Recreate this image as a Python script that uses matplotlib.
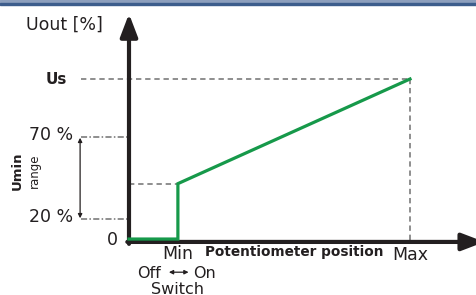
import matplotlib.pyplot as plt
from matplotlib.patches import Rectangle

# schematic levels (Max = 100 on x, Us = 100 on y)
pot_pos = [0, 17.4, 17.4, 100]
uout = [0.6, 0.6, 35, 100]
x_min, x_max = 17.4, 100
y_us, y_70, y_20, y_umin = 100, 64, 13, 35
level_labels = ['Us', '70 %', '20 %', '0']

W, H = 477, 295
ox, oy = 129, 240          # origin in pixels
sx, sy = 2.81, 1.61        # pixels per unit

fig = plt.figure(figsize=(W / 100, H / 100), dpi=100)
ax = fig.add_axes([0, 0, 1, 1])
ax.set_xlim(-ox / sx, (W - ox) / sx)
ax.set_ylim(-(H - oy) / sy, oy / sy)
ax.axis('off')

# window frame at top
fig.patches.append(Rectangle((0, 1 - 3 / H), 1, 3 / H, transform=fig.transFigure,
                             color='#8d9fbd', zorder=0))
fig.patches.append(Rectangle((0, 1 - 4.5 / H), 1, 1.5 / H, transform=fig.transFigure,
                             color='#3d5d8c', zorder=0))

dark = '#231f20'
grey = '#707070'
green = '#16994a'
dash = (0, (3.5, 2.5))
dashdot = (0, (4, 1.5, 1, 1.5))

# guide lines
ax.plot([-17, x_max], [y_us, y_us], ls=dash, color=grey, lw=1.1)
ax.plot([x_max, x_max], [0, y_us], ls=dash, color=grey, lw=1.1)
ax.plot([0, x_min], [y_umin, y_umin], ls=dash, color=grey, lw=1.1)
ax.plot([-17, 0], [y_70, y_70], ls=dashdot, color=grey, lw=1.1)
ax.plot([-17, 0], [y_20, y_20], ls=dashdot, color=grey, lw=1.1)

# Umin range arrow
ax.annotate('', xy=(-17.4, y_70 - 0.5), xytext=(-17.4, y_20 + 0.5),
            arrowprops=dict(arrowstyle='<|-|>', color=dark, lw=0.9,
                            mutation_scale=6, shrinkA=0, shrinkB=0))

# axes with arrows
head = '-|>,head_length=0.55,head_width=0.21'
ax.annotate('', xy=(0, 140.5), xytext=(0, -2.4), annotation_clip=False,
            arrowprops=dict(arrowstyle=head, color=dark, lw=3,
                            mutation_scale=25, shrinkA=0, shrinkB=0), zorder=4)
ax.annotate('', xy=(126.5, -1.2), xytext=(-0.6, -1.2), annotation_clip=False,
            arrowprops=dict(arrowstyle=head, color=dark, lw=3,
                            mutation_scale=25, shrinkA=0, shrinkB=0), zorder=4)

# characteristic
ax.plot(pot_pos, uout, color=green, lw=2.3, solid_joinstyle='miter', zorder=5)

fs = 12.5
ax.text(-23, 134, 'Uout [%]', fontsize=fs, color=dark, ha='center', va='center')
ax.text(-22, y_us, level_labels[0], fontsize=11, fontweight='bold', color=dark,
        ha='right', va='center')
ax.text(-20, y_70 + 1, level_labels[1], fontsize=fs, color=dark, ha='right', va='center')
ax.text(-20, y_20 + 1, level_labels[2], fontsize=fs, color=dark, ha='right', va='center')
ax.text(-3.8, 0.3, level_labels[3], fontsize=fs, color=dark, ha='right', va='center')

ax.text(-39.8, 43, 'Umin', fontsize=9.5, fontweight='bold', color=dark, rotation=90,
        ha='center', va='center')
ax.text(-33.8, 43, 'range', fontsize=8.5, color=dark, rotation=90,
        ha='center', va='center')

ax.text(x_min, -9, 'Min', fontsize=fs, color=dark, ha='center', va='center')
ax.text(x_max, -9.5, 'Max', fontsize=fs, color=dark, ha='center', va='center')
ax.text(27.2, -7.5, 'Potentiometer position', fontsize=9.8, fontweight='bold',
        color=dark, ha='left', va='center')

ax.text(11.3, -20.5, 'Off', fontsize=11.5, color=dark, ha='right', va='center')
ax.annotate('', xy=(21.2, -20), xytext=(14.2, -20),
            arrowprops=dict(arrowstyle='<|-|>', color=dark, lw=0.9,
                            mutation_scale=6, shrinkA=0, shrinkB=0))
ax.text(22.8, -21, 'On', fontsize=11.5, color=dark, ha='left', va='center')
ax.text(x_min, -31, 'Switch', fontsize=11.5, color=dark, ha='center', va='center')

fig.savefig('out.png', dpi=100)
